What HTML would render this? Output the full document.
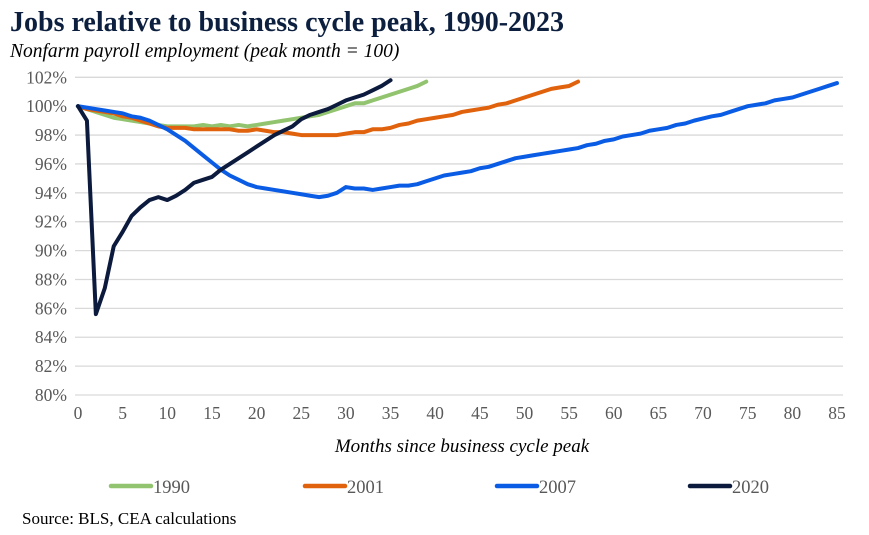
<!DOCTYPE html>
<html><head><meta charset="utf-8"><style>
body{margin:0;background:#fff;width:869px;height:535px;overflow:hidden;font-family:"Liberation Serif",serif}
svg{position:absolute;left:0;top:0}
</style></head><body>
<svg width="869" height="535">
<text x="10" y="31" font-size="28" font-weight="bold" fill="#0c1f3f">Jobs relative to business cycle peak, 1990-2023</text>
<text x="10" y="57" font-size="19.5" font-style="italic" fill="#000">Nonfarm payroll employment (peak month = 100)</text>
<g id="grid"></g><g id="yt"></g><g id="xt"></g><g id="lines"></g>
<text x="462" y="452" font-size="19" font-style="italic" text-anchor="middle">Months since business cycle peak</text>
<g id="legend"></g>
<text x="22" y="524" font-size="17">Source: BLS, CEA calculations</text>
</svg>
<script>
const yTicks=[80,82,84,86,88,90,92,94,96,98,100,102];
const xTicks=[0,5,10,15,20,25,30,35,40,45,50,55,60,65,70,75,80,85];
const seriesNames=["1990","2001","2007","2020"];
const s1990=[100,99.8,99.6,99.4,99.2,99.1,99.0,98.9,98.8,98.7,98.6,98.6,98.6,98.6,98.7,98.6,98.7,98.6,98.7,98.6,98.7,98.8,98.9,99.0,99.1,99.2,99.3,99.4,99.6,99.8,100.0,100.2,100.2,100.4,100.6,100.8,101.0,101.2,101.4,101.7];
const s2001=[100,99.8,99.7,99.6,99.5,99.3,99.2,99.0,98.8,98.6,98.5,98.5,98.5,98.4,98.4,98.4,98.4,98.4,98.3,98.3,98.4,98.3,98.2,98.2,98.1,98.0,98.0,98.0,98.0,98.0,98.1,98.2,98.2,98.4,98.4,98.5,98.7,98.8,99.0,99.1,99.2,99.3,99.4,99.6,99.7,99.8,99.9,100.1,100.2,100.4,100.6,100.8,101.0,101.2,101.3,101.4,101.7];
const s2007=[100,99.9,99.8,99.7,99.6,99.5,99.3,99.2,99.0,98.7,98.4,98.0,97.6,97.1,96.6,96.1,95.6,95.2,94.9,94.6,94.4,94.3,94.2,94.1,94.0,93.9,93.8,93.7,93.8,94.0,94.4,94.3,94.3,94.2,94.3,94.4,94.5,94.5,94.6,94.8,95.0,95.2,95.3,95.4,95.5,95.7,95.8,96.0,96.2,96.4,96.5,96.6,96.7,96.8,96.9,97.0,97.1,97.3,97.4,97.6,97.7,97.9,98.0,98.1,98.3,98.4,98.5,98.7,98.8,99.0,99.15,99.3,99.4,99.6,99.8,100.0,100.1,100.2,100.4,100.5,100.6,100.8,101.0,101.2,101.4,101.6];
const s2020=[100,99.0,85.6,87.4,90.3,91.3,92.4,93.0,93.5,93.7,93.5,93.8,94.2,94.7,94.9,95.1,95.6,96.0,96.4,96.8,97.2,97.6,98.0,98.3,98.6,99.1,99.4,99.6,99.8,100.1,100.4,100.6,100.8,101.1,101.4,101.8];
const colors=["#92c46f","#e0620d","#0b5ce5","#0b1a3d"];
const X=m=>78+m*(837-78)/85, Y=v=>395-(v-80)*(395-77.3)/22;
const NS="http://www.w3.org/2000/svg";
function mk(t,a,p){const e=document.createElementNS(NS,t);for(const k in a)e.setAttribute(k,a[k]);p.appendChild(e);return e;}
const g=document.getElementById('grid'),yt=document.getElementById('yt'),xt=document.getElementById('xt'),L=document.getElementById('lines'),lg=document.getElementById('legend');
yTicks.forEach(v=>{
 const l=mk('line',{x1:75,x2:843,y1:Y(v),y2:Y(v),stroke:'#d9d9d9','stroke-width':1.3},g);
 
 
 const t=mk('text',{x:67,y:Y(v)+6,'font-size':17.5,'text-anchor':'end',fill:'#595959'},yt);t.textContent=v+'%';
 
 
});
xTicks.forEach(m=>{
 const t=mk('text',{x:X(m),y:419,'font-size':17.5,'text-anchor':'middle',fill:'#595959'},xt);t.textContent=m;
 
 
});
[s1990,s2001,s2007,s2020].forEach((s,i)=>{
 const p=mk('polyline',{points:s.map((v,m)=>X(m)+','+Y(v)).join(' '),fill:'none',stroke:colors[i],'stroke-width':4,'stroke-linejoin':'round','stroke-linecap':'round'},L);
 
 
});
const lx=[111,305,497,690];
seriesNames.forEach((n,i)=>{
 const l=mk('line',{x1:lx[i],x2:lx[i]+40,y1:486,y2:486,stroke:colors[i],'stroke-width':4.5,'stroke-linecap':'round'},lg);
 
 
 const t=mk('text',{x:lx[i]+42,y:493,'font-size':18.5,fill:'#595959'},lg);t.textContent=n;
 
 
});
</script>
</body></html>
